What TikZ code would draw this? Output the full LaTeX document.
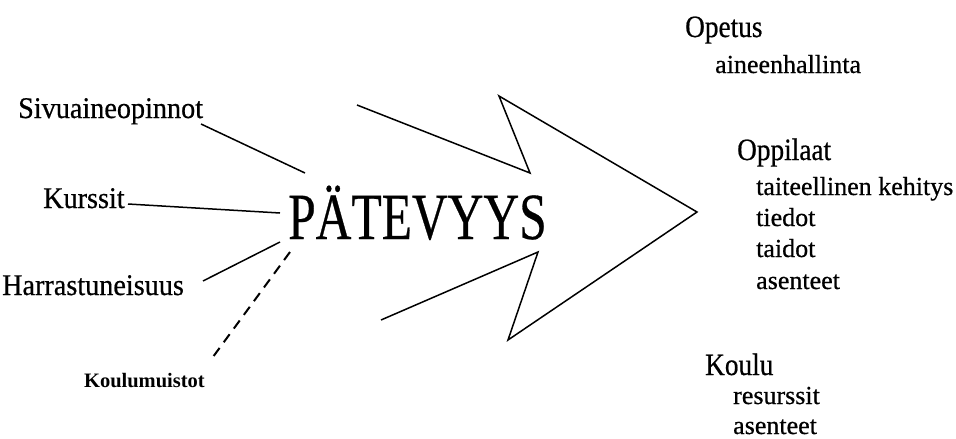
\documentclass[tikz,border=0pt]{standalone}
\usepackage{fontspec}
\setmainfont{Liberation Serif}
\newfontfamily\labfont[FakeStretch=0.94,FakeBold=0.6]{Liberation Serif}
\newfontfamily\headfont[FakeStretch=0.88,FakeBold=0.6]{Liberation Serif}
\newfontfamily\subfont[FakeBold=0.6]{Liberation Serif}
\newfontfamily\titfont[FakeStretch=0.75,FakeBold=0.4]{Liberation Serif}
\newfontfamily\smallfont{Liberation Serif Bold}
\begin{document}
\begin{tikzpicture}[x=1pt,y=-1pt,
  lab/.style={anchor=base west, inner sep=0pt, font=\labfont\fontsize{30}{30}\selectfont},
  small/.style={anchor=base east, inner sep=0pt, font=\smallfont\fontsize{20.5}{20.5}\selectfont},
  head/.style={anchor=base west, inner sep=0pt, font=\headfont\fontsize{31}{31}\selectfont},
  sub/.style={anchor=base west, inner sep=0pt, font=\subfont\fontsize{26}{26}\selectfont},
  title/.style={anchor=base west, inner sep=0pt, font=\titfont\fontsize{66}{66}\selectfont},
  conn/.style={line width=1.5pt},
  dconn/.style={line width=2pt, dash pattern=on 10pt off 7pt},
  arrowline/.style={line width=1.5pt, line join=miter, miter limit=20}]
\useasboundingbox (0,0) rectangle (956,439);

% left labels
\node[lab] (siv) at (18,118) {Sivuaineopinnot};
\node[lab] (kur) at (43,208) {Kurssit};
\node[lab] (har) at (2,295) {Harrastuneisuus};
\node[small] (kou) at (205,387) {Koulumuistot};

% central word
\node[title] (pat) at (288,239) {PÄTEVYYS};

% connector end points
\coordinate (sivE) at (201,124);
\coordinate (sivP) at (305,173);
\coordinate (kurE) at (128,204);
\coordinate (kurP) at (280,213);
\coordinate (harE) at (203,281);
\coordinate (harP) at (280,242);
\coordinate (kouE) at (210,361);
\coordinate (kouP) at (290,252);

\draw[conn] (sivE) -- (sivP);
\draw[conn] (kurE) -- (kurP);
\draw[conn] (harE) -- (harP);
\draw[dconn] (kouP) -- (kouE);

% big open arrow
\coordinate (a1) at (357,105);
\coordinate (a2) at (530,173);
\coordinate (a3) at (499,96);
\coordinate (a4) at (697,212);
\coordinate (a5) at (508,340);
\coordinate (a6) at (538,252);
\coordinate (a7) at (381,320);
\draw[arrowline] (a1) -- (a2) -- (a3) -- (a4) -- (a5) -- (a6) -- (a7);

% right column
\node[head] (ope) at (685,37) {Opetus};
\node[sub] (ain) at (715,73) {aineenhallinta};
\node[head] (opp) at (737,160) {Oppilaat};
\node[sub] (tai) at (756,195) {taiteellinen kehitys};
\node[sub] (tie) at (756,226) {tiedot};
\node[sub] (tad) at (756,257) {taidot};
\node[sub] (ase) at (756,289) {asenteet};
\node[head] (kol) at (705,375) {Koulu};
\node[sub] (res) at (733,404) {resurssit};
\node[sub] (ase2) at (733,434) {asenteet};
\end{tikzpicture}
\end{document}
